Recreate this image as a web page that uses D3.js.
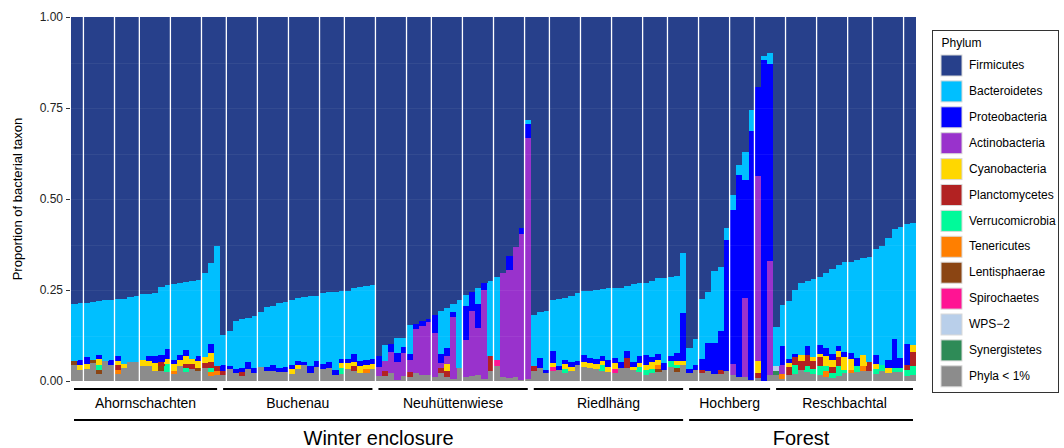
<!DOCTYPE html>
<html>
<head>
<meta charset="utf-8">
<script src="https://cdn.jsdelivr.net/npm/d3@7"></script>
<style>
  html, body { margin: 0; padding: 0; background: #fff; }
  svg { display: block; font-family: "Liberation Sans", Arial, Helvetica, sans-serif; }
</style>
</head>
<body>
<svg id="chart" width="1064" height="448"></svg>
<script>
// ---------------- DATA ----------------
const sites = ["Ahornschachten", "Buchenau", "Neuhüttenwiese", "Riedlhäng", "Hochberg", "Reschbachtal"];
const siteCounts = [24, 25, 25, 25, 14, 23];
const habitats = ["Winter enclosure", "Forest"];
const habitatSites = [4, 2];           // number of sites in each habitat
const yTicks = [0, 0.25, 0.5, 0.75, 1];
const yTickLabels = ["0.00", "0.25", "0.50", "0.75", "1.00"];
const gridBreaks = [2,7,11,16,21,25,30,35,40,44,49,54,58,63,68,73,77,82,87,92,96,101,106,110,115,120,125,129,134];

const phyla = ["Firmicutes","Bacteroidetes","Proteobacteria","Actinobacteria","Cyanobacteria","Planctomycetes",
               "Verrucomicrobia","Tenericutes","Lentisphaerae","Spirochaetes","WPS\u22122","Synergistetes","Phyla < 1%"];
const phylaColors = ["#27408B","#00BFFF","#0000FF","#9932CC","#FFD700","#B22222",
                     "#00FA9A","#FF7F00","#8B4513","#FF1493","#B9CFEA","#2E8B57","#8C8C8C"];

// dense series (one value per sample, samples in plotting order)
const firmicutes = [
  .789,.786,.786,.783,.780,.777,.777,.775,.775,.769,.766,.761,.761,.758,.742,.736,.733,.731,.728,.725,.723,.703,.676,.629,
  .874,.863,.835,.830,.827,.821,.810,.798,.795,.787,.783,.777,.773,.770,.767,.767,.758,.755,.755,.753,.753,.744,.743,.739,.736,
  .931,.900,.898,.882,.881,.846,.843,.835,.830,.819,.807,.800,.789,.777,.764,.755,.745,.731,.726,.715,.703,.657,.632,.580,.284,
  .819,.810,.808,.777,.775,.772,.766,.758,.753,.753,.750,.747,.744,.744,.744,.739,.733,.731,.731,.725,.717,.717,.714,.711,.648,
  .909,.885,.775,.756,.698,.687,.580,.490,.407,.370,.255,.192,.107,.100,
  .852,.791,.781,.750,.730,.725,.720,.714,.704,.691,.680,.673,.674,.668,.662,.659,.637,.630,.607,.582,.577,.568,.567
];
const bacteroidetes = [
  .156,.156,.148,.160,.149,.168,.165,.156,.178,.179,.182,.182,.170,.174,.187,.176,.210,.198,.187,.214,.207,.231,.222,.330,
  .083,.096,.132,.134,.121,.143,.152,.164,.162,.177,.178,.179,.172,.178,.192,.179,.195,.193,.215,.187,.187,.182,.202,.203,.203,
  0,.046,0,.040,.025,.080,0,0,0,0,.118,.110,.022,.187,.030,0,.044,0,.206,.228,0,0,0,0,.011,
  .140,.127,.162,.141,.184,.170,.182,.187,.176,.183,.189,.183,.198,.193,.204,.179,.215,.200,.198,.209,.209,.234,.216,.212,.165,
  .058,.071,.165,.140,.198,.176,.033,.041,.027,.077,.058,0,.011,.030,
  .107,.113,.159,.176,.199,.179,.214,.187,.206,.236,.224,.247,.250,.269,.267,.289,.291,.327,.335,.302,.360,.330,.335
];
const proteobacteria = [
  0,.014,.019,0,.011,0,.014,.014,0,0,0,0,.014,.019,.019,.027,.011,.014,.016,0,.016,0,.025,0,
  .016,.008,.011,.011,.019,.014,0,.011,.016,.011,.014,.011,.011,.008,.019,.016,.014,.016,.014,.011,.011,.022,.014,.014,.014,
  .030,0,.021,.027,.016,.016,.014,.014,.008,.049,.025,.022,.014,0,.093,.052,.066,.019,0,0,0,.038,0,.016,.038,
  0,.027,.008,.033,.011,.011,.014,.011,.019,.014,.014,.016,.019,.014,.016,.019,.014,.019,.027,.014,.016,.019,.016,.022,.132,
  .011,.014,.030,.077,.085,.107,.360,.423,.555,.325,.684,.245,.882,.541,
  0,.052,.011,.008,0,.025,0,.025,.022,.016,.014,.014,.016,.022,0,0,.025,0,.022,.080,.027,.058,0
];
const minorPhyla = [
  .044,.030,.033,.049,.019,.055,.044,.019,.036,.052,.052,.041,.041,.027,.027,.025,.019,.041,.025,.033,.027,.036,.014,.016,
  .016,.033,.022,.014,.033,.022,.038,.027,.027,.025,.025,.019,.033,.044,.022,.038,.033,.036,.016,.019,.033,.027,.022,.022,.033,
  .014,.014,.022,.003,.014,.011,.022,.016,.016,.011,.022,.011,.005,.036,.011,.014,.016,.005,.027,.041,.011,.008,.011,.003,.005,
  .027,.036,.022,.027,.030,.022,.027,.044,.038,.036,.033,.027,.025,.022,.036,.036,.030,.025,.016,.022,.025,.030,.038,.025,.044,
  .022,.030,.022,.027,.019,.019,.027,.016,.011,.011,.003,.008,0,.016,
  .016,.005,.016,.019,.030,.025,.019,.016,.011,.008,.014,.022,.022,.025,.027,.027,.019,.027,.022,.025,.025,.014,.016
];
// sparse series: [sample number (1-based), proportion]
const actinobacteria = [[50,.025],[51,.026],[52,.059],[53,.048],[54,.064],[55,.033],[56,.121],[57,.135],[58,.146],[59,.121],
  [60,.014],[61,.022],[62,.170],[64,.102],[65,.179],[66,.129],[67,.245],[70,.286],[71,.297],[72,.357],[73,.401],[74,.662],
  [107,.030],[109,.217],[111,.508],[113,.313],[115,.025]];
const cyanobacteria = [[2,.014],[3,.014],[5,.016],[8,.011],[9,.011],[12,.016],[13,.014],[14,.022],[16,.014],[17,.019],[18,.016],
  [19,.022],[20,.014],[21,.019],[22,.016],[23,.025],[36,.014],[37,.011],[44,.014],[45,.016],[46,.011],[47,.019],[48,.011],[49,.014],
  [61,.019],[78,.011],[80,.014],[81,.011],[83,.014],[84,.014],[85,.014],[86,.011],[87,.014],[88,.016],[91,.008],[92,.011],[93,.014],
  [94,.019],[95,.014],[98,.011],[99,.011],[111,.033],[116,.011],[118,.016],[120,.011],[121,.008],[122,.027],[123,.019],[124,.016],
  [125,.036],[126,.030],[128,.030],[130,.014],[132,.014],[136,.019]];
const planctomycetes = [[8,.014],[15,.011],[19,.011],[20,.014],[22,.014],[23,.016],[24,.014],[25,.011],[28,.011],[46,.014],
  [51,.014],[55,.014],[60,.014],[61,.016],[68,.041],[75,.014],[90,.027],[102,.008],[105,.011],[111,.014],[116,.022],[117,.022],
  [118,.025],[119,.030],[120,.022],[121,.025],[123,.016],[124,.025],[129,.025],[135,.014],[136,.038]];
const verrucomicrobia = [[5,.014],[16,.022],[19,.011],[23,.011],[44,.016],[80,.011],[86,.016],[92,.014],[93,.014],[94,.011],
  [97,.016],[98,.008],[117,.025],[119,.016],[120,.014],[121,.025],[122,.014],[123,.014],[124,.027],[125,.008],[127,.016],
  [130,.014],[131,.016],[133,.011],[134,.011],[135,.016],[136,.025]];
const tenericutes = [[8,.011],[17,.008],[23,.011],[24,.011],[48,.011],[95,.011],[115,.014],[122,.016],[126,.008],[128,.014]];
const lentisphaerae = [[1,.011],[4,.008],[5,.011],[15,.014],[21,.008],[95,.008],[98,.011]];
const spirochaetes = [[69,.016],[78,.011],[88,.011]];
const wps2 = [[114,.014]];
const synergistetes = [[114,.011]];

// ---------------- BUILD TABLE ----------------
const nSamples = d3.sum(siteCounts);
const ids = d3.range(nSamples).map(i => "S" + (i + 1));
function dense(arr) { return arr; }
function fromSparse(pairs) {
  const out = new Array(nSamples).fill(0);
  pairs.forEach(([s, v]) => { out[s - 1] = v; });
  return out;
}
const seriesByPhylum = {
  "Firmicutes": dense(firmicutes),
  "Bacteroidetes": dense(bacteroidetes),
  "Proteobacteria": dense(proteobacteria),
  "Actinobacteria": fromSparse(actinobacteria),
  "Cyanobacteria": fromSparse(cyanobacteria),
  "Planctomycetes": fromSparse(planctomycetes),
  "Verrucomicrobia": fromSparse(verrucomicrobia),
  "Tenericutes": fromSparse(tenericutes),
  "Lentisphaerae": fromSparse(lentisphaerae),
  "Spirochaetes": fromSparse(spirochaetes),
  "WPS\u22122": fromSparse(wps2),
  "Synergistetes": fromSparse(synergistetes),
  "Phyla < 1%": dense(minorPhyla)
};
const table = ids.map((id, i) => {
  const row = { id };
  phyla.forEach(p => { row[p] = seriesByPhylum[p][i]; });
  return row;
});

// ---------------- LAYOUT ----------------
const svg = d3.select("#chart");
const plot = { left: 71, right: 916, top: 17, bottom: 381 };
const x = d3.scaleBand().domain(ids).range([plot.left, plot.right]).padding(0);
const y = d3.scaleLinear().domain([0, 1]).range([plot.bottom, plot.top]);
const color = d3.scaleOrdinal().domain(phyla).range(phylaColors);

// stack: bottom = last legend entry
const stackKeys = phyla.slice().reverse();
const stacked = d3.stack().keys(stackKeys)(table);

const gBars = svg.append("g");
gBars.selectAll("g.layer").data(stacked).join("g")
  .attr("class", "layer")
  .attr("fill", d => color(d.key))
  .selectAll("rect").data(d => d).join("rect")
  .attr("x", d => x(d.data.id))
  .attr("width", x.bandwidth() + 0.4)
  .attr("y", d => y(d[1]))
  .attr("height", d => Math.max(0, y(d[0]) - y(d[1])))
  .attr("shape-rendering", "crispEdges");

// faint horizontal grid visible through the bars
const gridVals = d3.range(1, 8).map(i => i / 8);
svg.append("g").selectAll("line").data(gridVals).join("line")
  .attr("x1", plot.left).attr("x2", plot.right)
  .attr("y1", d => Math.round(y(d)) + 0.5).attr("y2", d => Math.round(y(d)) + 0.5)
  .attr("stroke", "#ffffff").attr("stroke-opacity", 0.06).attr("stroke-width", 1);

// white vertical separators
svg.append("g").selectAll("line").data(gridBreaks).join("line")
  .attr("x1", d => x(ids[d])).attr("x2", d => x(ids[d]))
  .attr("y1", plot.top).attr("y2", plot.bottom)
  .attr("stroke", "#ffffff").attr("stroke-width", 1.3);

// y axis
const yAxis = d3.axisLeft(y).tickValues(yTicks).tickFormat((d, i) => yTickLabels[i]).tickSize(4).tickPadding(3);
const gy = svg.append("g").attr("transform", `translate(${plot.left - 1},0)`).call(yAxis);
gy.select(".domain").remove();
gy.selectAll(".tick line").attr("stroke", "#333");
gy.selectAll(".tick text").attr("fill", "#222").style("font-size", "12px")
  .style("font-family", '"Liberation Sans", Arial, sans-serif');

svg.append("text")
  .attr("transform", `translate(19,${(plot.top + plot.bottom) / 2}) rotate(-90)`)
  .attr("text-anchor", "middle").attr("dominant-baseline", "middle")
  .style("font-size", "13px").attr("fill", "#000")
  .text("Proportion of bacterial taxon");

// site annotations
const siteStarts = d3.cumsum([0].concat(siteCounts)).slice(0, sites.length);
const siteInfo = sites.map((s, i) => {
  const first = ids[siteStarts[i]];
  const last = ids[siteStarts[i] + siteCounts[i] - 1];
  return { name: s, x0: x(first), x1: x(last) + x.bandwidth() };
});
const inset = 3;
const gSites = svg.append("g");
gSites.selectAll("line").data(siteInfo).join("line")
  .attr("x1", d => d.x0 + inset).attr("x2", d => d.x1 - inset)
  .attr("y1", 389).attr("y2", 389)
  .attr("stroke", "#000").attr("stroke-width", 2);
gSites.selectAll("text").data(siteInfo).join("text")
  .attr("x", d => (d.x0 + d.x1) / 2).attr("y", 404)
  .attr("text-anchor", "middle").attr("dominant-baseline", "middle")
  .style("font-size", "14px").attr("fill", "#000")
  .text(d => d.name);

// habitat annotations
const habStarts = d3.cumsum([0].concat(habitatSites)).slice(0, habitats.length);
const habInfo = habitats.map((h, i) => {
  const a = siteInfo[habStarts[i]];
  const b = siteInfo[habStarts[i] + habitatSites[i] - 1];
  return { name: h, x0: a.x0, x1: b.x1 };
});
const gHab = svg.append("g");
gHab.selectAll("line").data(habInfo).join("line")
  .attr("x1", d => d.x0 + inset).attr("x2", d => d.x1 - inset)
  .attr("y1", 420).attr("y2", 420)
  .attr("stroke", "#000").attr("stroke-width", 2);
gHab.selectAll("text").data(habInfo).join("text")
  .attr("x", d => (d.x0 + d.x1) / 2).attr("y", 440)
  .attr("text-anchor", "middle").attr("dominant-baseline", "middle")
  .style("font-size", "20px").attr("fill", "#000")
  .text(d => d.name);

// legend
const lg = svg.append("g").attr("transform", "translate(932.5,30.5)");
lg.append("rect").attr("width", 126).attr("height", 362)
  .attr("fill", "#fff").attr("stroke", "#333").attr("stroke-width", 1);
lg.append("text").attr("x", 9).attr("y", 13).attr("dominant-baseline", "middle")
  .style("font-size", "12px").attr("fill", "#000").text("Phylum");
const keyStep = 25.9;
const items = lg.selectAll("g.item").data(phyla).join("g")
  .attr("class", "item")
  .attr("transform", (d, i) => `translate(8.5,${24.5 + i * keyStep})`);
items.append("rect").attr("width", 21).attr("height", 21)
  .attr("fill", d => color(d)).attr("stroke", "#d9d9d9").attr("stroke-width", 1);
items.append("text").attr("x", 28).attr("y", 11).attr("dominant-baseline", "middle")
  .style("font-size", "12px").attr("fill", "#000").text(d => d);
</script>
</body>
</html>
